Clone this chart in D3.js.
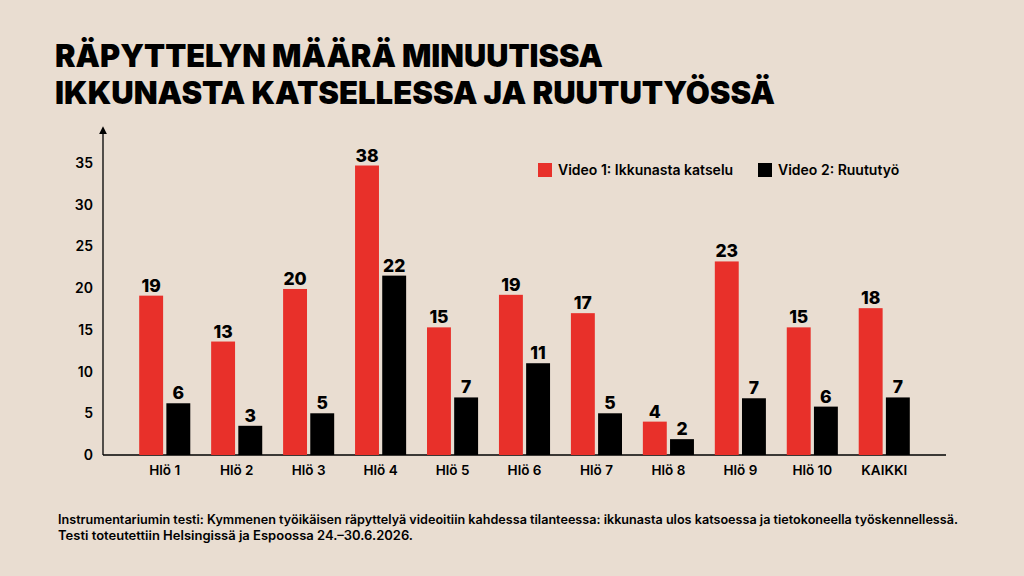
<!DOCTYPE html>
<html>
<head>
<meta charset="utf-8">
<script src="https://cdn.jsdelivr.net/npm/d3@7"></script>
<style>
  body { margin: 0; background: #e9ddd1; }
  svg { display: block; }
</style>
</head>
<body>
<svg width="1024" height="576"></svg>
<script>
// data
var categories = ["Hlö 1", "Hlö 2", "Hlö 3", "Hlö 4", "Hlö 5", "Hlö 6", "Hlö 7", "Hlö 8", "Hlö 9", "Hlö 10", "KAIKKI"];
var seriesNames = ["Video 1: Ikkunasta katselu", "Video 2: Ruututyö"];
// bar heights as drawn
var video1 = [19.1, 13.6, 19.9, 34.7, 15.3, 19.2, 17.0, 4.0, 23.2, 15.3, 17.6];
var video2 = [6.2, 3.5, 5.0, 21.5, 6.9, 11.0, 5.0, 1.9, 6.8, 5.8, 6.9];
// value labels printed above bars
var labels1 = [19, 13, 20, 38, 15, 19, 17, 4, 23, 15, 18];
var labels2 = [6, 3, 5, 22, 7, 11, 5, 2, 7, 6, 7];
var yTicks = [0, 5, 10, 15, 20, 25, 30, 35];

var titleLines = ["RÄPYTTELYN MÄÄRÄ MINUUTISSA", "IKKUNASTA KATSELLESSA JA RUUTUTYÖSSÄ"];
var footLines = [
  "Instrumentariumin testi: Kymmenen työikäisen räpyttelyä videoitiin kahdessa tilanteessa: ikkunasta ulos katsoessa ja tietokoneella työskennellessä.",
  "Testi toteutettiin Helsingissä ja Espoossa 24.–30.6.2026."
];

var red = "#e8302a";
var black = "#000000";
var font = "Inter, 'Noto Sans', 'DejaVu Sans', sans-serif";

var svg = d3.select("svg");
svg.append("rect").attr("width", 1024).attr("height", 576).attr("fill", "#e9ddd1");

// title
var titleWidths = [548, 720];
svg.selectAll(".title")
  .data(titleLines)
  .enter().append("text")
  .attr("class", "title")
  .attr("x", 55)
  .attr("y", (d, i) => 67 + i * 37)
  .attr("textLength", (d, i) => titleWidths[i])
  .attr("lengthAdjust", "spacingAndGlyphs")
  .style("font-family", font)
  .style("font-weight", 900)
  .style("font-size", "31px")
  .attr("fill", "#000")
  .text(d => d);

var x0 = 103, y0 = 455;
var x = d3.scaleBand().domain(categories).range([132, 917]).paddingInner(0.29).paddingOuter(0.1);
var xs = d3.scaleBand().domain([0, 1]).range([0, x.bandwidth()]).paddingInner(0.12);
var y = d3.scaleLinear().domain([0, 35]).range([y0, 163]);

// y axis with arrow
svg.append("defs").append("marker")
  .attr("id", "arrow").attr("viewBox", "0 0 10 10")
  .attr("refX", 5).attr("refY", 10)
  .attr("markerWidth", 6).attr("markerHeight", 8)
  .attr("orient", "0")
  .append("path").attr("d", "M0,10 L5,0 L10,10 Z").attr("fill", "#000");

svg.append("line")
  .attr("x1", x0).attr("x2", x0)
  .attr("y1", y0).attr("y2", 134)
  .attr("stroke", "#000").attr("stroke-width", 1.3)
  .attr("marker-end", "url(#arrow)");

svg.append("line")
  .attr("x1", x0).attr("x2", 946)
  .attr("y1", y0).attr("y2", y0)
  .attr("stroke", "#000").attr("stroke-width", 1.5);

var yAxis = d3.axisLeft(y).tickValues(yTicks).tickSize(0).tickPadding(10);
var yg = svg.append("g").attr("transform", "translate(" + x0 + ",0)").call(yAxis);
yg.select(".domain").remove();
yg.selectAll("text")
  .style("font-family", font)
  .style("font-size", "14px")
  .style("font-weight", 600)
  .attr("fill", "#000");

var xAxis = d3.axisBottom(x).tickSize(0).tickPadding(10);
var xg = svg.append("g").attr("transform", "translate(0," + y0 + ")").call(xAxis);
xg.select(".domain").remove();
xg.selectAll("text")
  .style("font-family", font)
  .style("font-size", "13.5px")
  .style("font-weight", 600)
  .attr("fill", "#000");

// bars
var series = [
  { vals: video1, labs: labels1, color: red },
  { vals: video2, labs: labels2, color: black }
];

series.forEach((s, si) => {
  var g = svg.append("g");
  g.selectAll("rect")
    .data(categories)
    .enter().append("rect")
    .attr("x", d => x(d) + xs(si))
    .attr("width", xs.bandwidth())
    .attr("y", (d, i) => y(s.vals[i]))
    .attr("height", (d, i) => y0 - y(s.vals[i]))
    .attr("fill", s.color);

  g.selectAll("text")
    .data(categories)
    .enter().append("text")
    .attr("x", d => x(d) + xs(si) + xs.bandwidth() / 2)
    .attr("y", (d, i) => y(s.vals[i]) - 4)
    .attr("text-anchor", "middle")
    .style("font-family", font)
    .style("font-weight", 800)
    .style("font-size", "17.5px")
    .attr("fill", "#000")
    .text((d, i) => s.labs[i]);
});

// legend
var legendX = [538, 758];
var lg = svg.selectAll(".legend")
  .data(seriesNames)
  .enter().append("g")
  .attr("class", "legend")
  .attr("transform", (d, i) => "translate(" + legendX[i] + ",163)");
lg.append("rect")
  .attr("width", 14).attr("height", 14)
  .attr("fill", (d, i) => series[i].color);
lg.append("text")
  .attr("x", 20).attr("y", 12)
  .style("font-family", font)
  .style("font-weight", 600)
  .style("font-size", "14px")
  .attr("fill", "#000")
  .text(d => d);

// footnote
var footWidths = [900, 355];
svg.selectAll(".foot")
  .data(footLines)
  .enter().append("text")
  .attr("class", "foot")
  .attr("x", 58)
  .attr("y", (d, i) => 524 + i * 16)
  .attr("textLength", (d, i) => footWidths[i])
  .attr("lengthAdjust", "spacingAndGlyphs")
  .style("font-family", font)
  .style("font-weight", 600)
  .style("font-size", "12.5px")
  .attr("fill", "#000")
  .text(d => d);
</script>
</body>
</html>
